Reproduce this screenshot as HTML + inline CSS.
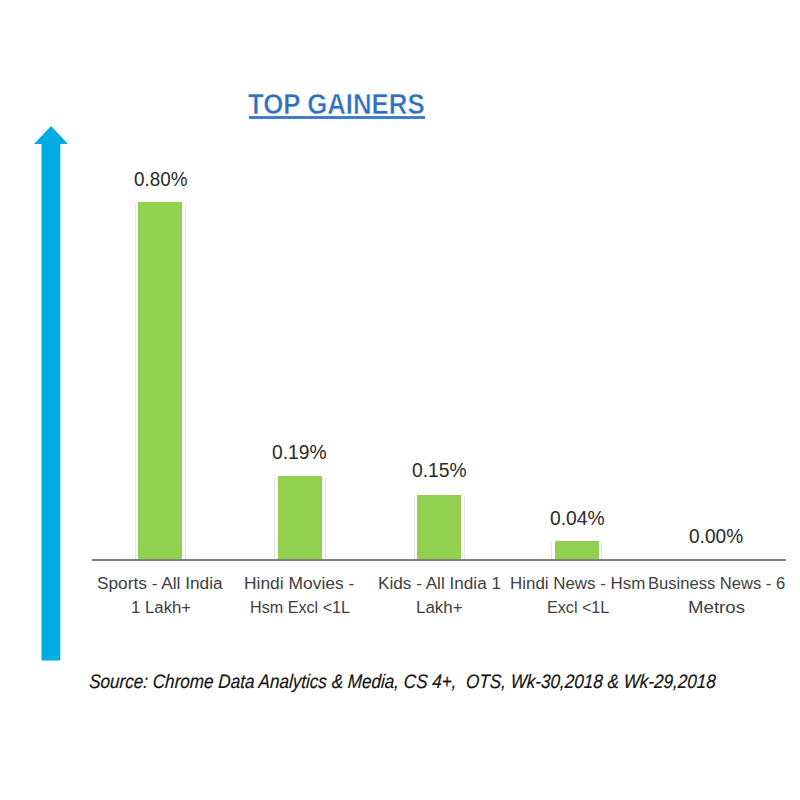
<!DOCTYPE html>
<html>
<head>
<meta charset="utf-8">
<style>
html,body{margin:0;padding:0;background:#fff;width:800px;height:800px;overflow:hidden;}
body{position:relative;font-family:"Liberation Sans",sans-serif;}
.bar{position:absolute;background:#92d050;}
.sh{position:absolute;border-left:1px solid #e6e6e6;border-right:1px solid #e6e6e6;}
.axis{position:absolute;left:91.5px;top:559px;width:694.5px;height:2px;background:#808080;}
.ul{position:absolute;left:249.3px;top:116.3px;width:175.5px;height:2.5px;background:#3f7fc2;}
</style>
</head>
<body>
<svg style="position:absolute;left:0;top:0" width="800" height="800">
  <polygon points="51,126 68,144 60.3,144 60.3,660.5 41.5,660.5 41.5,144 34,144" fill="#02abe3"/>
</svg>
<div class="sh" style="left:134.8px;width:49.0px;top:202.6px;height:356.9px;"></div>
<div class="bar" style="left:138.3px;width:44.0px;top:201.6px;height:357.9px;"></div>
<div class="sh" style="left:274.3px;width:49.5px;top:476.5px;height:83.0px;"></div>
<div class="bar" style="left:277.8px;width:44.5px;top:475.5px;height:84.0px;"></div>
<div class="sh" style="left:413.8px;width:49.0px;top:496.0px;height:63.5px;"></div>
<div class="bar" style="left:417.3px;width:44.0px;top:495.0px;height:64.5px;"></div>
<div class="sh" style="left:551.3px;width:49.0px;top:542.0px;height:17.5px;"></div>
<div class="bar" style="left:554.8px;width:44.0px;top:541.0px;height:18.5px;"></div>
<div class="axis"></div>
<div class="ul"></div>
<div style="position:absolute;left:248.10px;top:90.00px;font-size:29px;font-style:normal;font-weight:bold;color:#2f70bd;line-height:1;white-space:nowrap;transform:scaleX(0.8884);transform-origin:0 0;-webkit-text-stroke:0.5px #fff;">TOP GAINERS</div>
<div style="position:absolute;left:133.56px;top:168.60px;font-size:20px;font-style:normal;font-weight:normal;color:#2a2a2a;line-height:1;white-space:nowrap;transform:scaleX(0.9436);transform-origin:0 0;">0.80%</div>
<div style="position:absolute;left:272.04px;top:442.00px;font-size:20px;font-style:normal;font-weight:normal;color:#2a2a2a;line-height:1;white-space:nowrap;transform:scaleX(0.9636);transform-origin:0 0;">0.19%</div>
<div style="position:absolute;left:412.04px;top:459.50px;font-size:20px;font-style:normal;font-weight:normal;color:#2a2a2a;line-height:1;white-space:nowrap;transform:scaleX(0.9636);transform-origin:0 0;">0.15%</div>
<div style="position:absolute;left:550.04px;top:508.00px;font-size:20px;font-style:normal;font-weight:normal;color:#2a2a2a;line-height:1;white-space:nowrap;transform:scaleX(0.9636);transform-origin:0 0;">0.04%</div>
<div style="position:absolute;left:688.75px;top:526.30px;font-size:20px;font-style:normal;font-weight:normal;color:#2a2a2a;line-height:1;white-space:nowrap;transform:scaleX(0.9545);transform-origin:0 0;">0.00%</div>
<div style="position:absolute;left:96.89px;top:576.00px;font-size:15.6px;font-style:normal;font-weight:normal;color:#404040;line-height:1;white-space:nowrap;transform:scaleX(1.1062);transform-origin:0 0;">Sports - All India</div>
<div style="position:absolute;left:130.92px;top:600.00px;font-size:15.6px;font-style:normal;font-weight:normal;color:#404040;line-height:1;white-space:nowrap;transform:scaleX(1.0759);transform-origin:0 0;">1 Lakh+</div>
<div style="position:absolute;left:244.48px;top:576.00px;font-size:15.6px;font-style:normal;font-weight:normal;color:#404040;line-height:1;white-space:nowrap;transform:scaleX(1.1165);transform-origin:0 0;">Hindi Movies -</div>
<div style="position:absolute;left:250.36px;top:600.00px;font-size:15.6px;font-style:normal;font-weight:normal;color:#404040;line-height:1;white-space:nowrap;transform:scaleX(1.0358);transform-origin:0 0;">Hsm Excl &lt;1L</div>
<div style="position:absolute;left:377.50px;top:576.00px;font-size:15.6px;font-style:normal;font-weight:normal;color:#404040;line-height:1;white-space:nowrap;transform:scaleX(1.1000);transform-origin:0 0;">Kids - All India 1</div>
<div style="position:absolute;left:416.21px;top:600.00px;font-size:15.6px;font-style:normal;font-weight:normal;color:#404040;line-height:1;white-space:nowrap;transform:scaleX(1.0878);transform-origin:0 0;">Lakh+</div>
<div style="position:absolute;left:510.32px;top:576.00px;font-size:15.6px;font-style:normal;font-weight:normal;color:#404040;line-height:1;white-space:nowrap;transform:scaleX(1.0846);transform-origin:0 0;">Hindi News - Hsm</div>
<div style="position:absolute;left:547.07px;top:600.00px;font-size:15.6px;font-style:normal;font-weight:normal;color:#404040;line-height:1;white-space:nowrap;transform:scaleX(1.0339);transform-origin:0 0;">Excl &lt;1L</div>
<div style="position:absolute;left:647.94px;top:576.00px;font-size:15.6px;font-style:normal;font-weight:normal;color:#404040;line-height:1;white-space:nowrap;transform:scaleX(1.0625);transform-origin:0 0;">Business News - 6</div>
<div style="position:absolute;left:687.80px;top:600.00px;font-size:15.6px;font-style:normal;font-weight:normal;color:#404040;line-height:1;white-space:nowrap;transform:scaleX(1.1957);transform-origin:0 0;">Metros</div>
<div style="position:absolute;left:89.42px;top:672.20px;font-size:19.5px;font-style:italic;font-weight:normal;color:#141414;line-height:1;white-space:nowrap;transform:skewX(-3deg) scaleX(0.8763);transform-origin:0 14px;-webkit-text-stroke:0.2px currentColor;">Source: Chrome Data Analytics &amp; Media, CS 4+,&nbsp; OTS, Wk-30,2018 &amp; Wk-29,2018</div>

</body>
</html>
